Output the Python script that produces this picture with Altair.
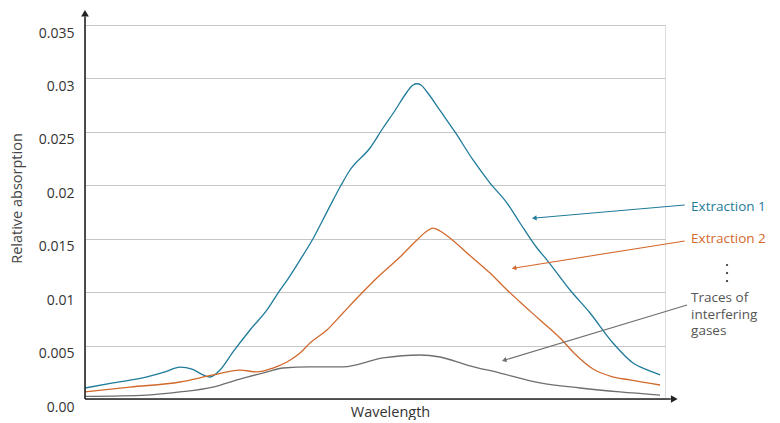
import math
import altair as alt
import pandas as pd

# ---------------- data ----------------
ext1_x = [0, 4.83, 10.69, 13.79, 16.38, 18.45, 20.17, 21.55, 23.28, 25.52, 28.45, 31.38, 33.62,
          34.83, 37.07, 39.31, 41.9, 44.14, 45.69, 49.14, 51.38, 53.45, 55.52, 56.55, 57.24,
          57.93, 58.97, 61.21, 63.79, 66.9, 69.83, 72.76, 75.0, 77.93, 79.66, 83.62, 87.07,
          91.03, 94.48, 97.07, 99.14]
ext1_y = [0.00103, 0.0015, 0.00206, 0.00253, 0.00299, 0.0028, 0.0023, 0.00206, 0.00271, 0.0044,
          0.00646, 0.00833, 0.0102, 0.0111, 0.013, 0.015, 0.0177, 0.02, 0.02143, 0.02349,
          0.02536, 0.027, 0.02873, 0.02938, 0.0295, 0.02938, 0.02873, 0.027, 0.02499, 0.02237,
          0.02021, 0.01834, 0.01647, 0.01413, 0.013, 0.0102, 0.00805, 0.00524, 0.00337, 0.0027,
          0.00225]

ext2_x = [0, 7.76, 16.38, 22.07, 26.72, 29.66, 32.41, 34.83, 37.07, 38.79, 41.72, 44.48, 47.41,
          50.86, 54.31, 57.24, 58.97, 60.0, 61.21, 62.93, 65.86, 69.83, 72.76, 75.0, 78.45,
          81.9, 84.48, 87.59, 90.52, 93.97, 99.14]
ext2_y = [0.00066, 0.00112, 0.00159, 0.00225, 0.00271, 0.00253, 0.0029, 0.00346, 0.0043,
          0.00524, 0.00646, 0.00805, 0.00973, 0.0116, 0.01329, 0.01488, 0.01572, 0.016, 0.01572,
          0.01507, 0.01366, 0.01179, 0.0102, 0.00908, 0.00739, 0.00571, 0.00421, 0.00281,
          0.00215, 0.00178, 0.00131]

gas_x = [0, 10.69, 16.38, 22.07, 26.72, 31.38, 34.14, 38.79, 44.48, 51.38, 57.76, 61.21, 65.86,
         71.55, 78.45, 85.34, 92.24, 99.14]
gas_y = [0.00025, 0.00037, 0.00066, 0.00112, 0.00187, 0.00253, 0.0029, 0.003, 0.003, 0.00384,
         0.00412, 0.00393, 0.00318, 0.00243, 0.0015, 0.00103, 0.00066, 0.00037]

series_names = ["Extraction 1", "Extraction 2", "Traces of interfering gases"]
series_colors = ["#1f7b9a", "#d2692c", "#6e6e6e"]

tick_values = [0, 0.005, 0.01, 0.015, 0.02, 0.025, 0.03, 0.035]
tick_labels = ["0.00", "0.005", "0.01", "0.015", "0.02", "0.025", "0.03", "0.035"]

# annotation texts and arrows (data coordinates)
label_texts = ["Extraction 1", "Extraction 2", "Traces of\ninterfering\ngases"]
label_x = [104.5, 104.5, 104.5]
label_y = [0.01797, 0.01497, 0.00945]
label_color = ["#1f7b9a", "#d2692c", "#555555"]

arrow_x0 = [103.4, 103.4, 103.8]
arrow_y0 = [0.01815, 0.01479, 0.0088]
arrow_x1 = [77.6, 74.1, 72.4]
arrow_y1 = [0.01694, 0.01226, 0.00365]
arrow_color = ["#1f7b9a", "#d2692c", "#6e6e6e"]

dots_x = [110.7, 110.7, 110.7]
dots_y = [0.01254, 0.01179, 0.01104]

# ---------------- layout ----------------
W, H = 580, 374
X_DOM = [0, 100]
Y_DOM = [0, 0.035]
FONT = "Open Sans"

xs = alt.Scale(domain=X_DOM, nice=False, zero=False)
ys = alt.Scale(domain=Y_DOM, nice=False)

rows = []
for name, xv, yv in zip(series_names, [ext1_x, ext2_x, gas_x], [ext1_y, ext2_y, gas_y]):
    for a, b in zip(xv, yv):
        rows.append({"series": name, "w": a, "a": b})
df = pd.DataFrame(rows)

label_expr = ""
for v, t in zip(tick_values, tick_labels):
    label_expr += f"abs(datum.value - {v}) < 1e-9 ? '{t}' : "
label_expr += "''"

base = alt.Chart(df)
lines = base.mark_line(strokeWidth=1.3, interpolate="monotone").encode(
    x=alt.X("w:Q", scale=xs,
            axis=alt.Axis(labels=False, ticks=False, domain=False, grid=False,
                          title="Wavelength", titleX=305, titleY=13,
                          titleFont=FONT, titleFontSize=14.5, titleFontWeight="normal",
                          titleColor="#333333", titleBaseline="middle")),
    y=alt.Y("a:Q", scale=ys,
            axis=alt.Axis(values=tick_values, labelExpr=label_expr, grid=True,
                          gridColor="#c6c6c6", gridWidth=1, domain=False, ticks=False,
                          labelPadding=11, labelOffset=8, labelFont=FONT, labelFontSize=14,
                          labelColor="#333333",
                          title="Relative absorption", titleX=-68, titleY=173,
                          titleAngle=270, titleAlign="center", titleBaseline="middle",
                          titleFont=FONT, titleFontSize=14.5, titleFontWeight="normal",
                          titleColor="#444444")),
    color=alt.Color("series:N", scale=alt.Scale(domain=series_names, range=series_colors),
                    legend=None),
    detail="series:N",
)

# axes lines with arrowheads
axis_df = pd.DataFrame({"x0": [0, 0], "y0": [0, 0], "x1": [101.0, 0], "y1": [0, 0.0358]})
axis_rules = alt.Chart(axis_df).mark_rule(color="#222222", strokeWidth=1.6).encode(
    x=alt.X("x0:Q", scale=xs), y=alt.Y("y0:Q", scale=ys), x2="x1:Q", y2="y1:Q")
head_df = pd.DataFrame({"x": [101.6, 0], "y": [0, 0.0361], "shape": ["triangle-right", "triangle-up"]})
axis_heads = alt.Chart(head_df).mark_point(filled=True, opacity=1, color="#222222", size=60).encode(
    x=alt.X("x:Q", scale=xs), y=alt.Y("y:Q", scale=ys),
    shape=alt.Shape("shape:N", scale=None))

# annotation arrows
px_x = W / (X_DOM[1] - X_DOM[0])
px_y = H / (Y_DOM[1] - Y_DOM[0])
angles = []
for a0, b0, a1, b1 in zip(arrow_x0, arrow_y0, arrow_x1, arrow_y1):
    dx = (a1 - a0) * px_x
    dy = -(b1 - b0) * px_y
    angles.append(math.degrees(math.atan2(dx, -dy)) % 360)
arr_df = pd.DataFrame({"x0": arrow_x0, "y0": arrow_y0, "x1": arrow_x1, "y1": arrow_y1,
                       "c": arrow_color, "ang": angles})
arr_rules = alt.Chart(arr_df).mark_rule(strokeWidth=1.1).encode(
    x=alt.X("x0:Q", scale=xs), y=alt.Y("y0:Q", scale=ys), x2="x1:Q", y2="y1:Q",
    color=alt.Color("c:N", scale=None))
arr_heads = alt.Chart(arr_df).mark_point(filled=True, opacity=1, shape="triangle", size=28).encode(
    x=alt.X("x1:Q", scale=xs), y=alt.Y("y1:Q", scale=ys),
    color=alt.Color("c:N", scale=None), angle=alt.Angle("ang:Q", scale=None))

lab_df = pd.DataFrame({"t": label_texts, "x": label_x, "y": label_y, "c": label_color})
labels = alt.Chart(lab_df).mark_text(align="left", baseline="middle", font=FONT, fontSize=13.5,
                                     lineBreak="\n", lineHeight=16.5).encode(
    x=alt.X("x:Q", scale=xs), y=alt.Y("y:Q", scale=ys), text="t:N",
    color=alt.Color("c:N", scale=None))

dots_df = pd.DataFrame({"x": dots_x, "y": dots_y})
dots = alt.Chart(dots_df).mark_point(filled=True, opacity=1, shape="circle", size=5,
                                     color="#333333").encode(
    x=alt.X("x:Q", scale=xs), y=alt.Y("y:Q", scale=ys))

chart = alt.layer(lines, axis_rules, axis_heads, arr_rules, arr_heads, labels, dots).properties(
    width=W, height=H,
    autosize=alt.AutoSizeParams(type="none"),
    padding={"left": 77, "top": 17, "right": 107, "bottom": 21},
).configure_view(stroke=None).configure(background="white")

chart.save("out.html", embed_options={"renderer": "svg", "actions": False})
